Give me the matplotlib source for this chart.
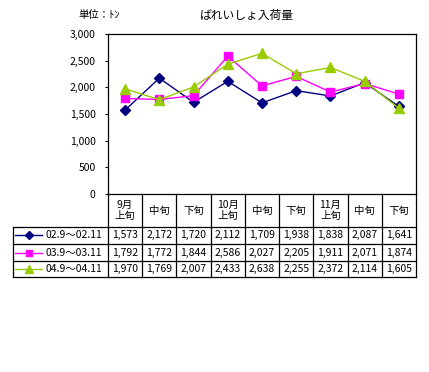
import matplotlib.pyplot as plt
import numpy as np

plt.rcParams['font.family'] = ['Noto Sans CJK JP', 'DejaVu Sans']

periods = ["9月\n上旬", "中旬", "下旬", "10月\n上旬", "中旬", "下旬", "11月\n上旬", "中旬", "下旬"]
series_names = ["02.9～02.11", "03.9～03.11", "04.9～04.11"]
s0211 = [1573, 2172, 1720, 2112, 1709, 1938, 1838, 2087, 1641]
s0311 = [1792, 1772, 1844, 2586, 2027, 2205, 1911, 2071, 1874]
s0411 = [1970, 1769, 2007, 2433, 2638, 2255, 2372, 2114, 1605]
yticks = [0, 500, 1000, 1500, 2000, 2500, 3000]

colors = ["#000080", "#ff00ff", "#99cc00"]
markers = ["D", "s", "^"]
msizes = [5, 6, 7]

fig = plt.figure(figsize=(4.29, 3.72), dpi=100)
ax = fig.add_axes([108/429, 1 - 194/372, 308/429, 160/372])

x = np.arange(len(periods))
all_series = [s0211, s0311, s0411]
for vals, c, m, ms in zip(all_series, colors, markers, msizes):
    ax.plot(x, vals, color=c, marker=m, markersize=ms, lw=1, clip_on=False)

ax.set_xlim(-0.5, len(periods) - 0.5)
ax.set_ylim(0, 3000)
ax.set_yticks(yticks)
ax.set_yticklabels([f"{v:,}" for v in yticks], fontsize=7.5)
ax.tick_params(axis='y', length=2, width=0.8, pad=7)
ax.set_xticks([])
for s in ax.spines.values():
    s.set_linewidth(0.9)

# data table under the plot: x in data units, y in axes coords
tr = ax.get_xaxis_transform()
n = len(periods)
y_head = -0.206
row_edges = [y_head, -0.3125, -0.419, -0.519]

def px2x(px):
    # pixel column -> data x
    return -0.5 + (px - 108) / 308 * n

x_left = px2x(13)
lk = dict(color='black', lw=0.9, transform=tr, clip_on=False)

for i in range(n - 1):
    ax.plot([i + 0.5, i + 0.5], [0, row_edges[-1]], **lk)
ax.plot([-0.5, -0.5], [0, row_edges[-1]], **lk)
ax.plot([n - 0.5] * 2, [0, row_edges[-1]], **lk)
ax.plot([x_left, x_left], [y_head, row_edges[-1]], **lk)
for yy in row_edges:
    ax.plot([x_left, n - 0.5], [yy, yy], **lk)

for i, p in enumerate(periods):
    ax.text(i, y_head / 2, p, ha='center', va='center', fontsize=7.5,
            linespacing=1.1, transform=tr)

for r, (vals, name, c, m, ms) in enumerate(zip(all_series, series_names, colors, markers, msizes)):
    yc = (row_edges[r] + row_edges[r + 1]) / 2
    ax.plot([px2x(15), px2x(42)], [yc, yc], color=c, lw=1, transform=tr, clip_on=False)
    ax.plot([px2x(28.5)], [yc], color=c, marker=m, markersize=ms - 1, transform=tr, clip_on=False)
    ax.text(px2x(45), yc, name, ha='left', va='center', fontsize=7.5, transform=tr)
    for i, v in enumerate(vals):
        ax.text(i, yc, f"{v:,}", ha='center', va='center', fontsize=7.5, transform=tr)

fig.text(247/429, 1 - 15/372, "ばれいしょ入荷量", ha='center', va='center', fontsize=8.5)
fig.text(78/429, 1 - 15/372, "単位：ﾄﾝ", ha='left', va='center', fontsize=7.5)

fig.savefig("out.png", dpi=100)
